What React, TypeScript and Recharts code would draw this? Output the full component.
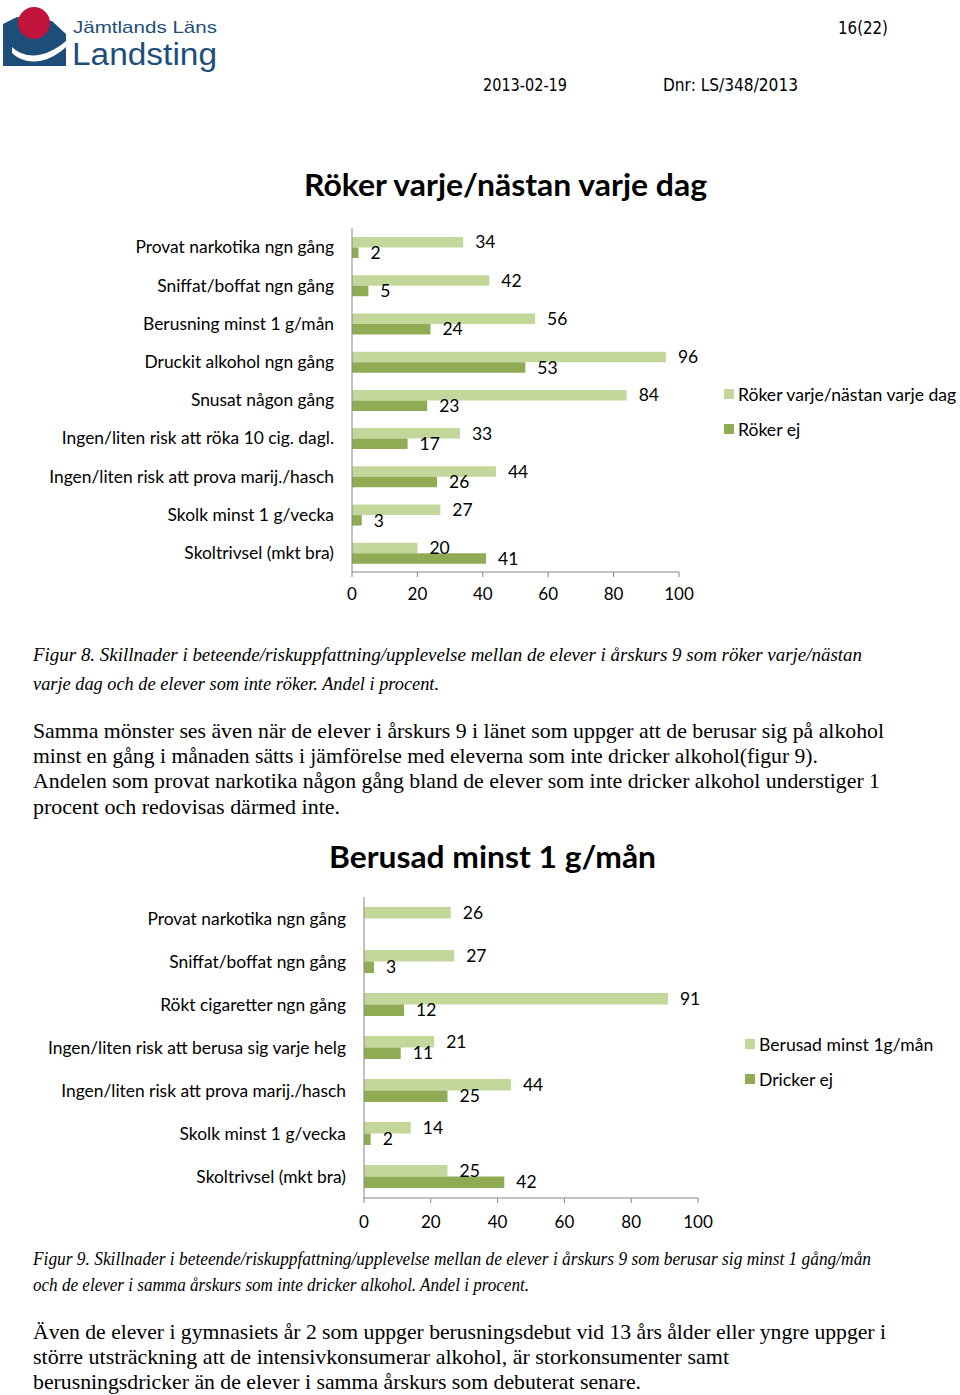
import React from "react";
import { BarChart, Bar, XAxis, YAxis, LabelList, Legend } from "recharts";

// Figur 8 – röker varje/nästan varje dag vs röker ej
const smokeCategories = [
  "Provat narkotika ngn gång",
  "Sniffat/boffat ngn gång",
  "Berusning minst 1 g/mån",
  "Druckit alkohol ngn gång",
  "Snusat någon gång",
  "Ingen/liten risk att röka 10 cig. dagl.",
  "Ingen/liten risk att prova marij./hasch",
  "Skolk minst 1 g/vecka",
  "Skoltrivsel (mkt bra)",
];
const smokeDaily = [34, 42, 56, 96, 84, 33, 44, 27, 20];
const smokeNot = [2, 5, 24, 53, 23, 17, 26, 3, 41];

// Figur 9 – berusad minst 1 g/mån vs dricker ej
const drunkCategories = [
  "Provat narkotika ngn gång",
  "Sniffat/boffat ngn gång",
  "Rökt cigaretter ngn gång",
  "Ingen/liten risk att berusa sig varje helg",
  "Ingen/liten risk att prova marij./hasch",
  "Skolk minst 1 g/vecka",
  "Skoltrivsel (mkt bra)",
];
const drunkMonthly = [26, 27, 91, 21, 44, 14, 25];
const drunkNot: (number | null)[] = [null, 3, 12, 11, 25, 2, 42];

const xTicks = [0, 20, 40, 60, 80, 100];

const LIGHT = "#c4d79b";
const DARK = "#8fac55";
const AXIS = "#868686";
const FONT = "Lato, 'Open Sans', sans-serif";
const BLUE = "#1d4e7a";

const smokeData = smokeCategories.map((name, i) => ({ name, a: smokeDaily[i], b: smokeNot[i] }));
const drunkData = drunkCategories.map((name, i) => ({ name, a: drunkMonthly[i], b: drunkNot[i] }));

// legend drawn in series order (Recharts sorts by name otherwise)
const makeLegend = (names: [string, string]) => () => (
  <div style={{ fontFamily: FONT, fontSize: 17.6, color: "#000" }}>
    {names.map((n, i) => (
      <div key={n} style={{ display: "flex", alignItems: "center", height: 20, marginBottom: 15, whiteSpace: "nowrap" }}>
        <span style={{ width: 10, height: 10, background: i === 0 ? LIGHT : DARK, marginRight: 4, display: "inline-block" }} />
        {n}
      </div>
    ))}
  </div>
);

interface HBarProps {
  data: any[];
  top: number;
  height: number;
  margin: { top: number; right: number; bottom: number; left: number };
  axisWidth: number;
  barSize: number;
  names: [string, string];
  legendPos: { left: number; top: number };
  tickGap: number;
}

const HBars = ({ data, top, height, margin, axisWidth, barSize, names, legendPos, tickGap }: HBarProps) => (
  <div style={{ position: "absolute", left: 0, top, width: 960, height }}>
    <BarChart
      width={960}
      height={height}
      data={data}
      layout="vertical"
      margin={margin}
      barGap={0}
      barCategoryGap={0}
      style={{ fontFamily: FONT }}
    >
      <XAxis
        type="number"
        domain={[0, 100]}
        ticks={xTicks}
        height={30}
        stroke={AXIS}
        tickSize={5}
        tickMargin={tickGap}
        tick={{ fill: "#000", fontSize: 17 }}
      />
      <YAxis
        type="category"
        dataKey="name"
        width={axisWidth}
        stroke={AXIS}
        tickLine={false}
        tickSize={0}
        tickMargin={18}
        interval={0}
        tick={{ fill: "#000", fontSize: 17.4 }}
      />
      <Legend
        layout="vertical"
        align="center"
        verticalAlign="middle"
        wrapperStyle={{ left: legendPos.left, top: legendPos.top, width: 240 }}
        content={makeLegend(names)}
      />
      <Bar dataKey="a" name={names[0]} fill={LIGHT} barSize={barSize} isAnimationActive={false}>
        <LabelList dataKey="a" position="right" offset={12} fill="#000" fontSize={17.5} />
      </Bar>
      <Bar dataKey="b" name={names[1]} fill={DARK} barSize={barSize} isAnimationActive={false}>
        <LabelList dataKey="b" position="right" offset={12} fill="#000" fontSize={17.5} />
      </Bar>
    </BarChart>
  </div>
);

const PText = ({ x, y, w, size, children, italic, bold, family, fill, base }: any) => (
  <text
    x={x}
    y={y}
    textLength={w}
    lengthAdjust={w ? "spacingAndGlyphs" : undefined}
    fontSize={size}
    fontStyle={italic ? "italic" : "normal"}
    fontWeight={bold ? 700 : 400}
    fontFamily={family}
    fill={fill || "#000"}
    dominantBaseline={base ? "alphabetic" : "central"}
  >
    {children}
  </text>
);

const SERIF = "'Liberation Serif', 'DejaVu Serif', serif";
const HEAD = "'DejaVu Sans Condensed', 'DejaVu Sans', sans-serif";
const LOGO = "'Liberation Sans', Arial, sans-serif";

const Page = () => (
  <svg width={960} height={1395} style={{ position: "absolute", left: 0, top: 0 }}>
    {/* logo */}
    <path d="M3,24 L17,17 L52,21 L66,34 L66,66 L3,66 Z" fill={BLUE} />
    <path d="M12,47 C26,60 46,58 66,41 L66,47 C48,64 26,66 12,53 Z" fill="#fff" />
    <circle cx={34} cy={23} r={16} fill="#c0143c" />
    <PText x={73} y={33} w={144} size={17} base family={LOGO} fill={BLUE}>Jämtlands Läns</PText>
    <PText x={72} y={65} w={145} size={31} base family={LOGO} fill={BLUE}>Landsting</PText>

    <PText x={838} y={28} w={50} size={17} family={HEAD}>16(22)</PText>
    <PText x={483} y={85} w={84} size={17} family={HEAD}>2013-02-19</PText>
    <PText x={663} y={85} w={135} size={17} family={HEAD}>Dnr: LS/348/2013</PText>

    <PText x={304} y={184} w={403} size={30} bold family={FONT}>Röker varje/nästan varje dag</PText>

    <PText x={33} y={654} w={829} size={19} italic family={SERIF}>
      Figur 8. Skillnader i beteende/riskuppfattning/upplevelse mellan de elever i årskurs 9 som röker varje/nästan
    </PText>
    <PText x={33} y={683} w={406} size={19} italic family={SERIF}>
      varje dag och de elever som inte röker. Andel i procent.
    </PText>

    <PText x={33} y={731} w={851} size={21} family={SERIF}>
      Samma mönster ses även när de elever i årskurs 9 i länet som uppger att de berusar sig på alkohol
    </PText>
    <PText x={33} y={756} w={785} size={21} family={SERIF}>
      minst en gång i månaden sätts i jämförelse med eleverna som inte dricker alkohol(figur 9).
    </PText>
    <PText x={33} y={781} w={847} size={21} family={SERIF}>
      Andelen som provat narkotika någon gång bland de elever som inte dricker alkohol understiger 1
    </PText>
    <PText x={33} y={807} w={307} size={21} family={SERIF}>
      procent och redovisas därmed inte.
    </PText>

    <PText x={329} y={856} w={327} size={30} bold family={FONT}>Berusad minst 1 g/mån</PText>

    <PText x={33} y={1258} w={838} size={19} italic family={SERIF}>
      Figur 9. Skillnader i beteende/riskuppfattning/upplevelse mellan de elever i årskurs 9 som berusar sig minst 1 gång/mån
    </PText>
    <PText x={33} y={1284} w={496} size={19} italic family={SERIF}>
      och de elever i samma årskurs som inte dricker alkohol. Andel i procent.
    </PText>

    <PText x={33} y={1332} w={853} size={21} family={SERIF}>
      Även de elever i gymnasiets år 2 som uppger berusningsdebut vid 13 års ålder eller yngre uppger i
    </PText>
    <PText x={33} y={1357} w={696} size={21} family={SERIF}>
      större utsträckning att de intensivkonsumerar alkohol, är storkonsumenter samt
    </PText>
    <PText x={33} y={1382} w={608} size={21} family={SERIF}>
      berusningsdricker än de elever i samma årskurs som debuterat senare.
    </PText>
  </svg>
);

export default function App() {
  return (
    <div style={{ position: "absolute", left: 0, top: 0, width: 960, height: 1395, background: "#fff", overflow: "hidden" }}>
      <Page />
      <HBars
        data={smokeData}
        top={200}
        height={420}
        margin={{ top: 28, right: 281, bottom: 18, left: 0 }}
        axisWidth={352}
        barSize={10.5}
        names={["Röker varje/nästan varje dag", "Röker ej"]}
        legendPos={{ left: 724, top: 184 }}
        tickGap={11}
      />
      <HBars
        data={drunkData}
        top={870}
        height={370}
        margin={{ top: 27, right: 262, bottom: 12, left: 0 }}
        axisWidth={364}
        barSize={11.5}
        names={["Berusad minst 1g/mån", "Dricker ej"]}
        legendPos={{ left: 745, top: 164 }}
        tickGap={13}
      />
    </div>
  );
}
